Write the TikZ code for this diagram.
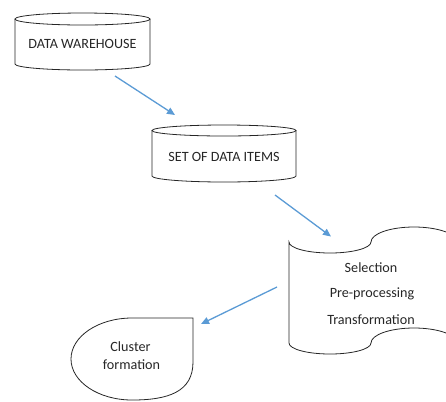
\documentclass[tikz,border=0pt]{standalone}
\usepackage{fontspec}
\setmainfont{Carlito}
\usetikzlibrary{arrows.meta}
\tikzset{
  shapeline/.style={draw=black!85, line width=0.8bp},
  lbl/.style={font=\fontsize{14.2}{17}\selectfont, text=black!85, inner sep=0pt},
  flow/.style={draw={rgb,255:red,91;green,155;blue,213}, line width=1.3bp,
    -{Triangle[length=8bp,width=7bp]}}
}
\begin{document}
\begin{tikzpicture}[x=1bp,y=-1bp]
\useasboundingbox (0,0) rectangle (446,401);
\clip (0,0) rectangle (446,401);
% cylinder 1
\draw[shapeline] (15,19) -- (15,64) arc[start angle=180,end angle=0,x radius=67.5,y radius=6] -- (150,19);
\draw[shapeline] (82.5,19) ellipse[x radius=67.5,y radius=6];
\node[lbl] (dw) at (82.5,43.5) {DATA WAREHOUSE};
% cylinder 2
\draw[shapeline] (152,130.5) -- (152,176) arc[start angle=180,end angle=0,x radius=72,y radius=6] -- (296,130.5);
\draw[shapeline] (224,130.5) ellipse[x radius=72,y radius=5.5];
\node[lbl] (sd) at (224,157) {SET OF DATA ITEMS};
% punched tape
\draw[shapeline] (289,242)
  arc[start angle=180,end angle=0,x radius=41,y radius=11]
  arc[start angle=180,end angle=360,x radius=43,y radius=15]
  -- (457,343)
  arc[start angle=0,end angle=-180,x radius=43,y radius=15]
  arc[start angle=0,end angle=180,x radius=41,y radius=11]
  -- cycle;
\node[lbl] (sel) at (371,267.5) {Selection};
\node[lbl] (pre) at (372,293.5) {Pre-processing};
\node[lbl] (tra) at (371,320) {Transformation};
% teardrop
\draw[shapeline] (193,318) -- (132,318)
  arc[start angle=270,end angle=180,x radius=61,y radius=41]
  arc[start angle=180,end angle=90,x radius=61,y radius=41]
  .. controls (168,400) and (193,392) .. (193,362) -- cycle;
\node[lbl] (cl) at (130.5,347) {Cluster};
\node[lbl] (fo) at (131.5,364.5) {formation};
% arrows
\coordinate (a1s) at (115,76);
\coordinate (a1e) at (175,115);
\coordinate (a2s) at (275,195);
\coordinate (a2e) at (331,236.5);
\coordinate (a3s) at (277,287);
\coordinate (a3e) at (201,324);
\draw[flow] (a1s) -- (a1e);
\draw[flow] (a2s) -- (a2e);
\draw[flow] (a3s) -- (a3e);
\end{tikzpicture}
\end{document}
